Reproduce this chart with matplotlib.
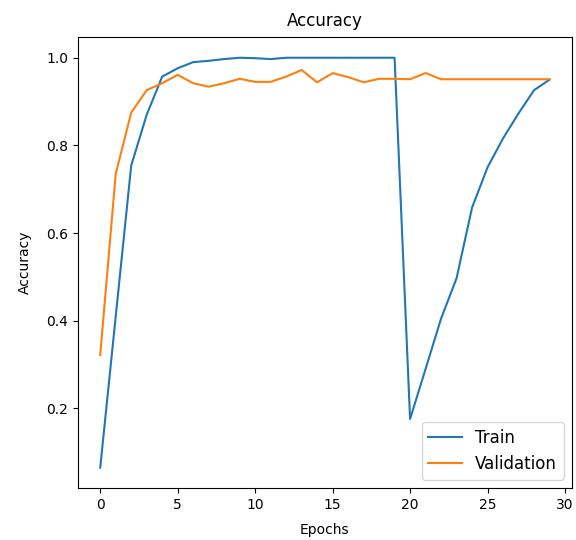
import matplotlib
matplotlib.use("Agg")
import matplotlib.pyplot as plt

epochs = list(range(30))

train_acc = [0.065, 0.41, 0.754, 0.87, 0.957, 0.976, 0.99, 0.993, 0.997, 1.0,
             0.999, 0.997, 1.0, 1.0, 1.0, 1.0, 1.0, 1.0, 1.0, 1.0,
             0.176, 0.29, 0.405, 0.497, 0.658, 0.75, 0.816, 0.873, 0.926, 0.95]

val_acc = [0.322, 0.735, 0.875, 0.926, 0.942, 0.961, 0.942, 0.934, 0.942, 0.952,
           0.945, 0.945, 0.957, 0.972, 0.944, 0.965, 0.956, 0.944, 0.952, 0.952,
           0.951, 0.965, 0.951, 0.951, 0.951, 0.951, 0.951, 0.951, 0.951, 0.951]

fig = plt.figure(figsize=(5.76, 5.4), dpi=100)
ax = fig.add_axes([0.135, 0.096, 0.858, 0.835])

ax.plot(epochs, train_acc, label="Train")
ax.plot(epochs, val_acc, label="Validation")

ax.set_title("Accuracy", pad=8)
ax.set_xlabel("Epochs", labelpad=8)
ax.set_ylabel("Accuracy", labelpad=10)
ax.legend(loc="lower right", fontsize=12)

fig.savefig("out.png", dpi=100)
